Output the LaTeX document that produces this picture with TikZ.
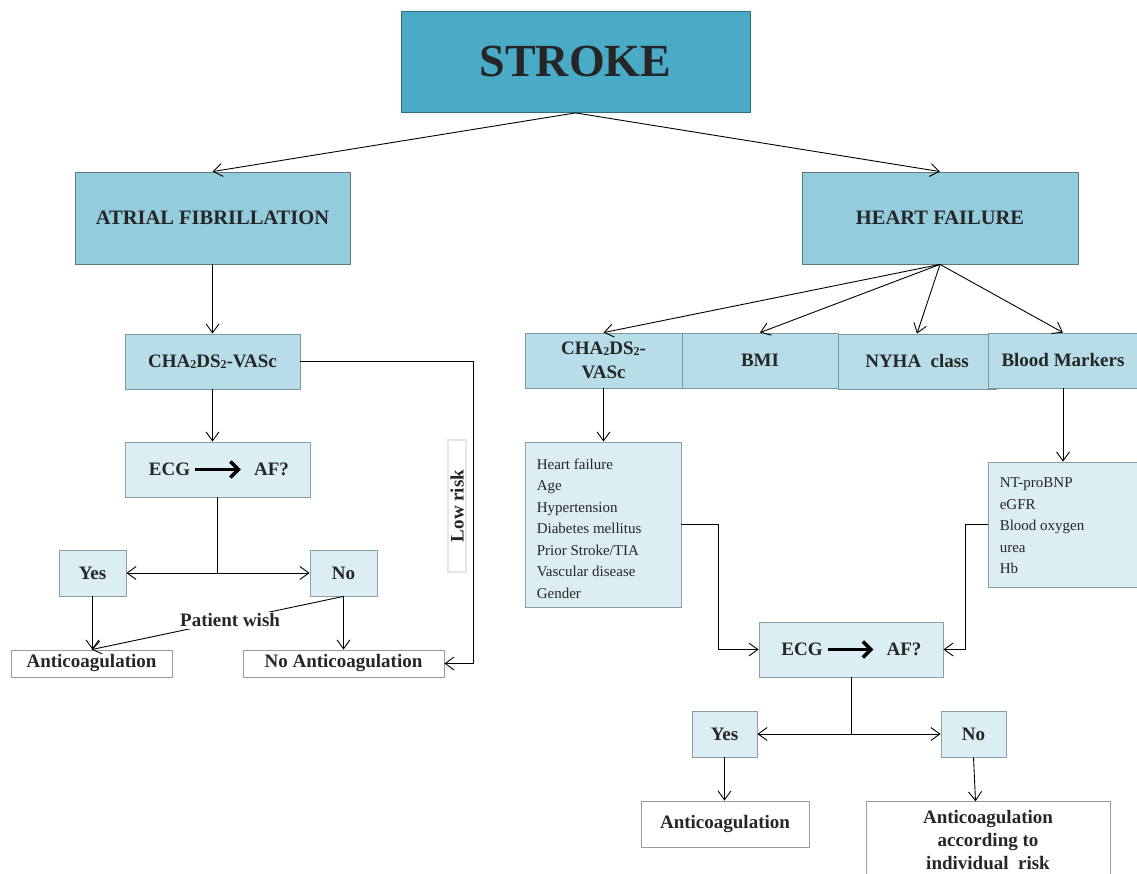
\documentclass[tikz,border=0pt]{standalone}
\usepackage{fontspec}
\setmainfont{Liberation Serif}
\usetikzlibrary{arrows.meta,calc}
\definecolor{strokeF}{HTML}{4AABC6}
\definecolor{strokeD}{HTML}{2F6E80}
\definecolor{lOneF}{HTML}{92CCDD}
\definecolor{lOneD}{HTML}{5E7780}
\definecolor{lTwoF}{HTML}{B6DDE8}
\definecolor{lTwoD}{HTML}{7A98A3}
\definecolor{lThreeF}{HTML}{DBEEF3}
\definecolor{lThreeD}{HTML}{8C9EA5}
\definecolor{whiteD}{HTML}{9A9A9A}
\definecolor{lowD}{HTML}{E6E6E6}
\definecolor{txt}{HTML}{262626}
\newcommand\mysubtwo{\raisebox{-0.5pt}{\fontsize{12}{12}\selectfont 2}}
\begin{document}
\begin{tikzpicture}[x=1pt,y=-1pt,
  every node/.style={inner sep=0pt, text=txt},
  box/.style={draw, rectangle, line width=0.8pt, font=\bfseries\fontsize{19}{24}\selectfont, align=center},
  lone/.style={box, fill=lOneF, draw=lOneD},
  ltwo/.style={box, fill=lTwoF, draw=lTwoD},
  lthree/.style={box, fill=lThreeF, draw=lThreeD},
  wbox/.style={box, fill=white, draw=whiteD},
  listtext/.style={font=\fontsize{15}{21.5}\selectfont, align=left},
  lbl/.style={font=\bfseries\fontsize{19}{24}\selectfont},
  conn/.style={draw=black, line width=0.9pt},
  arr/.style={conn, -{Straight Barb[length=9pt,width=13pt]}},
  bigarr/.style={draw=black, line width=3.5pt, -{Straight Barb[length=8pt,width=16pt]}},
]
\useasboundingbox (0,0) rectangle (1137,874);
\clip (0,0) rectangle (1137,874);

% top
\node[box, fill=strokeF, draw=strokeD, minimum width=349pt, minimum height=101pt,
      font=\bfseries\fontsize{46}{50}\selectfont] (stroke) at (575.5,62) {STROKE};
\node[lone, minimum width=275pt, minimum height=92pt, font=\bfseries\fontsize{20.5}{24}\selectfont] (af) at (212.5,218) {ATRIAL FIBRILLATION};
\node[lone, minimum width=276pt, minimum height=92pt, font=\bfseries\fontsize{20.5}{24}\selectfont] (hf) at (940,218) {HEART FAILURE};

% left branch
\node[ltwo, minimum width=175pt, minimum height=55pt] (chaL) at (212.5,361.5) {CHA\mysubtwo DS\mysubtwo-VASc};
\node[lthree, minimum width=185pt, minimum height=55pt] (ecgL) at (217.5,469.5) {};
\node[lbl] (ecgLa) at ($(ecgL)+(-48,0)$) {ECG};
\node[lbl] (ecgLb) at ($(ecgL)+(54,0)$) {AF?};
\node[lthree, minimum width=67pt, minimum height=46pt] (yesL) at (92.5,573) {Yes};
\node[lthree, minimum width=67pt, minimum height=46pt] (noL) at (343.5,573) {No};
\node[wbox, minimum width=161pt, minimum height=27pt] (antiL) at (91.5,663.5) {Anticoagulation};
\node[wbox, minimum width=201pt, minimum height=27pt] (noAnti) at (343.5,663.5) {No Anticoagulation};
\node[draw=lowD, fill=white, line width=1.2pt, minimum width=132pt, minimum height=18pt, rotate=90, lbl] (low) at (457,506) {Low risk};
\coordinate (jL) at (ecgL.south |- yesL.east);

% right branch
\node[ltwo, minimum width=157pt, minimum height=55pt] (chaR) at (603.5,360.5) {CHA\mysubtwo DS\mysubtwo-\\VASc};
\node[ltwo, minimum width=156pt, minimum height=55pt] (bmi) at (760,360.5) {BMI};
\node[ltwo, minimum width=158pt, minimum height=55pt] (nyha) at (917,361.5) {NYHA\ \ class};
\node[ltwo, minimum width=150pt, minimum height=55pt] (blood) at (1063,360.5) {Blood Markers};
\node[lthree, minimum width=156pt, minimum height=165pt] (chaList) at (603,524.5) {};
\node[listtext, anchor=west] (chaListT) at ($(chaList.west)+(12,4)$)
  {Heart failure\\Age\\Hypertension\\Diabetes mellitus\\Prior Stroke/TIA\\Vascular disease\\Gender};
\node[lthree, minimum width=150pt, minimum height=125pt] (markers) at (1063,524.5) {};
\node[listtext, anchor=west] (markersT) at ($(markers.west)+(12,1.5)$)
  {NT-proBNP\\eGFR\\Blood oxygen\\urea\\Hb};
\node[lthree, minimum width=184pt, minimum height=55pt] (ecgR) at (851,649.5) {};
\node[lbl] (ecgRa) at ($(ecgR)+(-49,0)$) {ECG};
\node[lbl] (ecgRb) at ($(ecgR)+(53,0)$) {AF?};
\node[lthree, minimum width=65pt, minimum height=46pt] (yesR) at (724.5,734) {Yes};
\node[lthree, minimum width=65pt, minimum height=46pt] (noR) at (973.5,734) {No};
\node[wbox, minimum width=168pt, minimum height=46pt] (antiR) at (725,824) {Anticoagulation};
\node[wbox, minimum width=244pt, minimum height=79pt, font=\bfseries\fontsize{19}{23}\selectfont] (antiInd) at (988,840.5) {Anticoagulation\\according to\\individual\ \ risk};
\coordinate (jR) at (ecgR.south |- yesR.east);

% connectors top
\draw[arr] (stroke.south) -- (af.north);
\draw[arr] (stroke.south) -- (hf.north);

% left connectors
\draw[arr] (af.south) -- (chaL.north);
\draw[arr] (chaL.south) -- (chaL.south |- ecgL.north);
\draw[bigarr, shorten <=5pt, shorten >=13pt] (ecgLa) -- (ecgLb);
\draw[conn] (ecgL.south) -- (jL);
\draw[arr] (jL) -- (yesL.east);
\draw[arr] (jL) -- (noL.west);
\draw[arr] (yesL.south) -- (yesL.south |- antiL.north);
\draw[arr] (noL.south) -- (noAnti.north);
\draw[arr] (noL.south) -- node[pos=0.45, fill=white, inner xsep=5pt, inner ysep=2pt, lbl] (pw) {Patient wish} (antiL.north);
\draw[arr] (chaL.east) -- ++(173,0) |- (noAnti.east);

% right connectors
\draw[arr] (hf.south) -- (chaR.north);
\draw[arr] (hf.south) -- (bmi.north);
\draw[arr] (hf.south) -- (nyha.north);
\draw[arr] (hf.south) -- (blood.north);
\draw[arr] (chaR.south) -- (chaR.south |- chaList.north);
\draw[arr] (blood.south) -- (blood.south |- markers.north);
\draw[arr] (chaList.east) -- ++(37,0) |- (ecgR.west);
\draw[arr] (markers.west) -- ++(-22,0) |- (ecgR.east);
\draw[bigarr, shorten <=5pt, shorten >=13pt] (ecgRa) -- (ecgRb);
\draw[conn] (ecgR.south) -- (jR);
\draw[arr] (jR) -- (yesR.east);
\draw[arr] (jR) -- (noR.west);
\draw[arr] (yesR.south) -- (yesR.south |- antiR.north);
\draw[arr] (noR.south) -- ++(2,44);
\end{tikzpicture}
\end{document}
